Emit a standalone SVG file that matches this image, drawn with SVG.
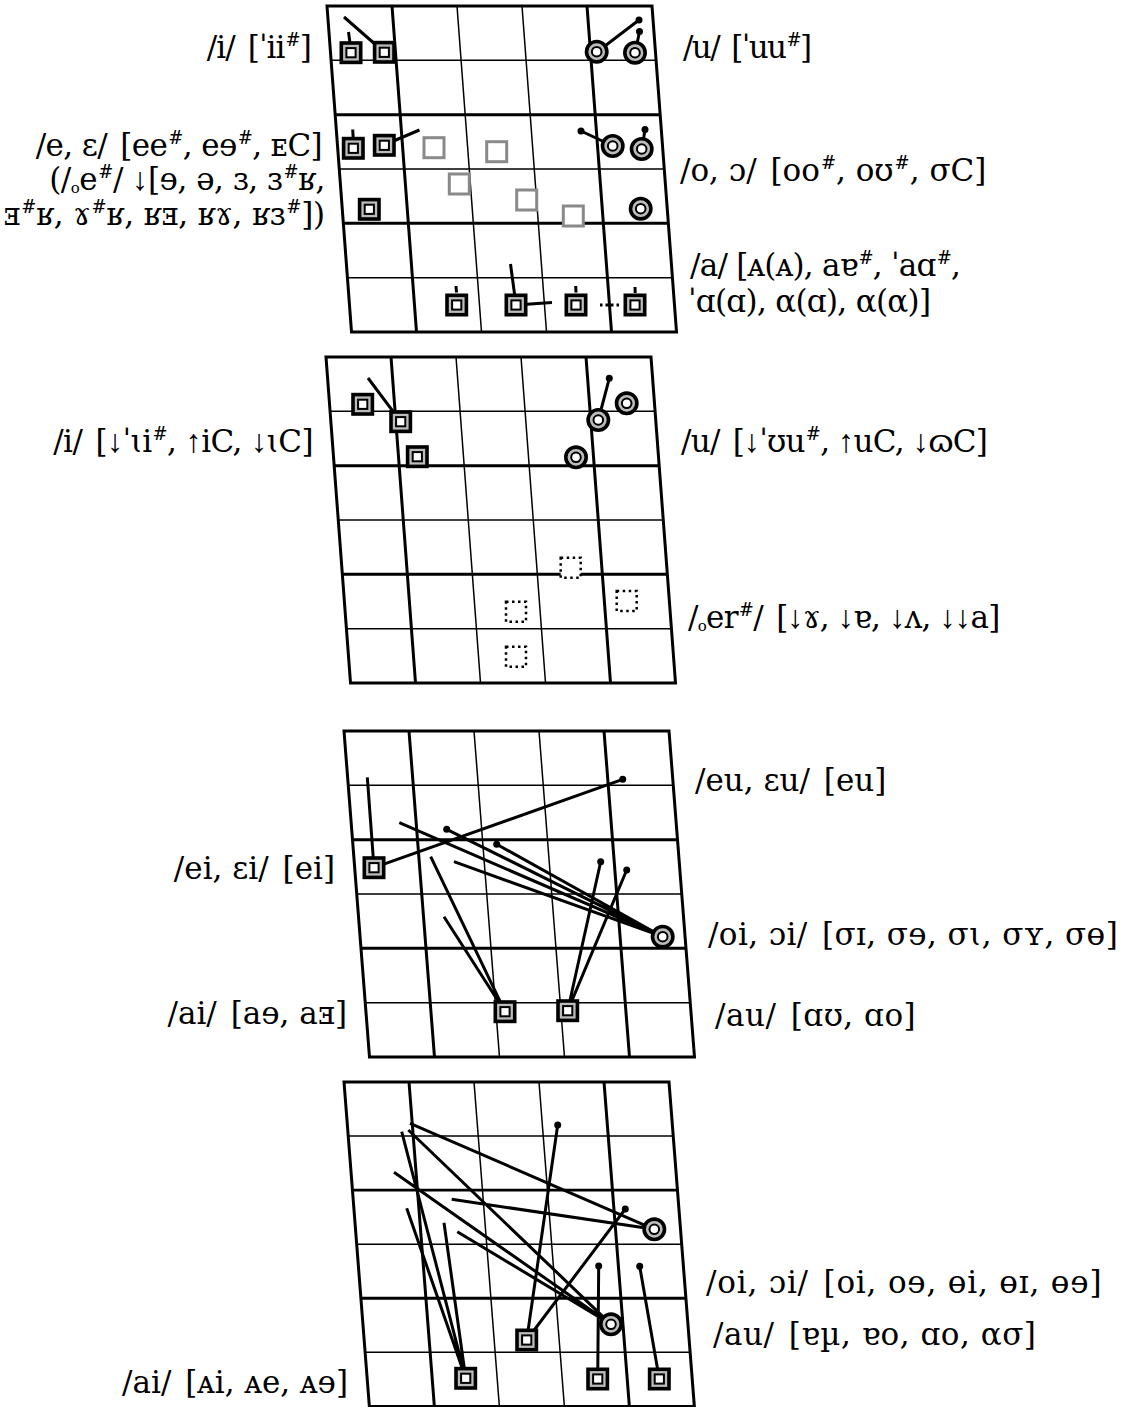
<svg xmlns="http://www.w3.org/2000/svg" width="1130" height="1407" viewBox="0 0 1130 1407">
<style>
.thin{stroke:#000;stroke-width:1.5;fill:none}
.thick{stroke:#000;stroke-width:3;fill:none}
.c{stroke:#000;stroke-width:3;fill:none}
.dl{stroke:#000;stroke-width:3;fill:none;stroke-dasharray:2.5 3}
.dot{fill:#000}
text{font-family:"DejaVu Serif","Liberation Serif","Noto Serif",serif;font-size:31px;fill:#000}
.s{font-size:18px;font-style:italic}
.r{font-size:15px}
.a{font-family:"Liberation Serif","DejaVu Serif",serif;font-size:32px}
</style>
<defs>
<g id="grid">
<path class="thin" d="M0 54.33H325M0 163H325M0 271.67H325M130 0V326M195 0V326"/>
<path class="thick" d="M0 108.67H325M0 217.33H325M65 0V326M260 0V326"/>
<path class="thick" d="M0 0H325V326H0Z"/>
</g>
<g id="sq"><rect x="-9.7" y="-9.7" width="19.4" height="19.4" fill="#bcbcbc" stroke="#000" stroke-width="3.6"/><rect x="-4.6" y="-4.6" width="9.2" height="9.2" fill="#fff" stroke="#000" stroke-width="2"/></g>
<g id="ci"><circle r="10.2" fill="#bcbcbc" stroke="#000" stroke-width="3.6"/><circle r="4.8" fill="#fff" stroke="#000" stroke-width="2"/></g>
<rect id="gsq" x="-10" y="-10" width="20" height="20" fill="#fff" stroke="#8a8a8a" stroke-width="3"/>
<rect id="dsq" x="-10" y="-10" width="20" height="20" fill="#fff" stroke="#000" stroke-width="2.5" stroke-dasharray="2.5 3.5"/>
</defs>
<rect width="1130" height="1407" fill="#fff"/>
<g id="grids">
<use href="#grid" transform="translate(327 6) skewX(4.3)"/>
<use href="#grid" transform="translate(326 357) skewX(4.3)"/>
<use href="#grid" transform="translate(344 731) skewX(4.47)"/>
<use href="#grid" transform="translate(344 1082) skewX(4.47) scale(1 0.995)"/>
</g>
<g id="connectors">
<path class="c" d="M344 17L384 52M348.5 32L350 43M639 20L597 52M639.5 32L635 53M352.7 129.5L353.3 140M384 145L419.5 130M581 131L613 146M645 129.5L642 149M510.5 264L516 305M516 305L552 302.5M456 286L456.5 292.5M575.7 286L576 292.5M635 287L635.2 293"/>
<path class="dl" d="M600 305H620"/>
<path class="c" d="M368 378L400.7 421.7M609.3 378.3L598.3 420"/>
<path class="c" d="M367.3 777.3L374 867.7M374 867.7L622.7 779.3M399.3 822.7L662.7 936.7M446.7 829.3L662.7 936.7M496.7 844.3L662.7 936.7M454 861.7L662.7 936.7M430.7 856.7L505 1011.7M444 916.7L505 1011.7M600.7 861.7L567.7 1010.7M626.7 870L567.7 1010.7"/>
<path class="c" d="M410 1123.3L654.3 1229.3M408.3 1130L611 1324.3M401.7 1131.7L465.7 1378.3M394 1172.3L611 1324.3M451.7 1199.3L654.3 1229.3M406.7 1208.3L465.7 1378.3M444 1222.7L465.7 1378.3M457.3 1231.7L611 1324.3M557.7 1125L526.7 1340M625.3 1209L526.7 1340M598.7 1266L597.7 1379M639.7 1266.3L659.3 1379"/>
<g class="dot">
<circle cx="639" cy="20" r="3.5"/><circle cx="639.5" cy="31.5" r="3.5"/><circle cx="581" cy="131" r="3.5"/><circle cx="645" cy="129.5" r="3.5"/>
<circle cx="609.3" cy="378.3" r="3.5"/>
<circle cx="622.7" cy="779.3" r="3.5"/><circle cx="446.7" cy="829.3" r="3.5"/><circle cx="496.7" cy="844.3" r="3.5"/><circle cx="600.7" cy="861.7" r="3.5"/><circle cx="626.7" cy="870" r="3.5"/>
<circle cx="557.7" cy="1125" r="3.5"/><circle cx="625.3" cy="1209" r="3.5"/><circle cx="598.7" cy="1266" r="3.5"/><circle cx="639.7" cy="1266.3" r="3.5"/>
</g>
</g>
<g id="nodes">
<g id="p1-i1"><use href="#sq" x="351" y="52.7"/></g>
<g id="p1-i2"><use href="#sq" x="384.3" y="52.3"/></g>
<g id="p1-u1"><use href="#ci" x="596.7" y="51.7"/></g>
<g id="p1-u2"><use href="#ci" x="635" y="52.7"/></g>
<g id="p1-e1"><use href="#sq" x="353.3" y="148.3"/></g>
<g id="p1-e2"><use href="#sq" x="384.3" y="145.3"/></g>
<g id="p1-e3"><use href="#sq" x="369.3" y="209.3"/></g>
<g id="p1-g1"><use href="#gsq" x="434" y="147.7"/></g>
<g id="p1-g2"><use href="#gsq" x="496.7" y="151.7"/></g>
<g id="p1-g3"><use href="#gsq" x="459.3" y="184"/></g>
<g id="p1-g4"><use href="#gsq" x="526.7" y="200"/></g>
<g id="p1-g5"><use href="#gsq" x="573.3" y="216"/></g>
<g id="p1-o1"><use href="#ci" x="612.7" y="146"/></g>
<g id="p1-o2"><use href="#ci" x="641.7" y="149"/></g>
<g id="p1-o3"><use href="#ci" x="640.7" y="208.7"/></g>
<g id="p1-a1"><use href="#sq" x="456.7" y="305"/></g>
<g id="p1-a2"><use href="#sq" x="516" y="305"/></g>
<g id="p1-a3"><use href="#sq" x="576" y="305"/></g>
<g id="p1-a4"><use href="#sq" x="635" y="305"/></g>
<g id="p2-i1"><use href="#sq" x="362.7" y="404.3"/></g>
<g id="p2-i2"><use href="#sq" x="400.7" y="421.7"/></g>
<g id="p2-i3"><use href="#sq" x="417.3" y="456.7"/></g>
<g id="p2-u1"><use href="#ci" x="598.3" y="420"/></g>
<g id="p2-u2"><use href="#ci" x="626.7" y="403.3"/></g>
<g id="p2-u3"><use href="#ci" x="576" y="457.3"/></g>
<g id="p2-r1"><use href="#dsq" x="570.7" y="567.7"/></g>
<g id="p2-r2"><use href="#dsq" x="626.7" y="601"/></g>
<g id="p2-r3"><use href="#dsq" x="516" y="611.7"/></g>
<g id="p2-r4"><use href="#dsq" x="516" y="656.7"/></g>
<g id="p3-ei"><use href="#sq" x="374" y="867.7"/></g>
<g id="p3-oi"><use href="#ci" x="662.7" y="936.7"/></g>
<g id="p3-ai"><use href="#sq" x="505" y="1011.7"/></g>
<g id="p3-au"><use href="#sq" x="567.7" y="1010.7"/></g>
<g id="p4-oi1"><use href="#ci" x="654.3" y="1229.3"/></g>
<g id="p4-oi2"><use href="#ci" x="611" y="1324.3"/></g>
<g id="p4-ai"><use href="#sq" x="465.7" y="1378.3"/></g>
<g id="p4-au1"><use href="#sq" x="526.7" y="1340"/></g>
<g id="p4-au2"><use href="#sq" x="597.7" y="1379"/></g>
<g id="p4-au3"><use href="#sq" x="659.3" y="1379"/></g>
</g>
<g id="labels">
<text x="311" y="58" text-anchor="end" letter-spacing="-0.9">/i/ <tspan dx="4">[ˈii</tspan><tspan class="s" dx="1" dy="-12">#</tspan><tspan dy="12">]</tspan></text>
<text x="683" y="58" letter-spacing="-1.6">/u/ <tspan dx="4">[ˈuu</tspan><tspan class="s" dx="1" dy="-12">#</tspan><tspan dy="12">]</tspan></text>
<text x="322" y="156" text-anchor="end" letter-spacing="-0.6">/e, ɛ/ <tspan dx="4">[ee</tspan><tspan class="s" dx="1" dy="-12">#</tspan><tspan dy="12">, eɘ</tspan><tspan class="s" dx="1" dy="-12">#</tspan><tspan dy="12">, ᴇC]</tspan></text>
<text x="325" y="190" text-anchor="end" letter-spacing="-0.45">(/<tspan class="r" dy="3">o</tspan><tspan dy="-3">e</tspan><tspan class="s" dx="1" dy="-12">#</tspan><tspan dy="12">/ </tspan><tspan class="a">↓</tspan>[ɘ, ə, ɜ, ɜ<tspan class="s" dx="1" dy="-12">#</tspan><tspan dy="12">ʁ,</tspan></text>
<text x="325" y="225" text-anchor="end" letter-spacing="-0.2">ⱻ<tspan class="s" dx="1" dy="-12">#</tspan><tspan dy="12">ʁ, ɤ</tspan><tspan class="s" dx="1" dy="-12">#</tspan><tspan dy="12">ʁ, ʁⱻ, ʁɤ, ʁɜ</tspan><tspan class="s" dx="1" dy="-12">#</tspan><tspan dy="12">])</tspan></text>
<text x="680" y="181">/o, ɔ/ <tspan dx="4">[oo</tspan><tspan class="s" dx="1" dy="-12">#</tspan><tspan dy="12">, oʊ</tspan><tspan class="s" dx="1" dy="-12">#</tspan><tspan dy="12">, σC]</tspan></text>
<text x="690" y="276" letter-spacing="-0.75">/a/ [ᴀ(ᴀ), aɐ<tspan class="s" dx="1" dy="-12">#</tspan><tspan dy="12">, ˈaɑ</tspan><tspan class="s" dx="1" dy="-12">#</tspan><tspan dy="12">,</tspan></text>
<text x="688" y="312" letter-spacing="-0.7">ˈɑ(ɑ), α(ɑ), α(α)]</text>
<text x="313" y="452" text-anchor="end" letter-spacing="-0.55">/i/ <tspan dx="4">[</tspan><tspan class="a">↓</tspan>ˈɩi<tspan class="s" dx="1" dy="-12">#</tspan><tspan dy="12">, </tspan><tspan class="a">↑</tspan>iC, <tspan class="a">↓</tspan>ɩC]</text>
<text x="681" y="452" letter-spacing="-0.75">/u/ <tspan dx="4">[</tspan><tspan class="a">↓</tspan>ˈʊu<tspan class="s" dx="1" dy="-12">#</tspan><tspan dy="12">, </tspan><tspan class="a">↑</tspan>uC, <tspan class="a">↓</tspan>ɷC]</text>
<text x="688" y="628" letter-spacing="-0.7">/<tspan class="r" dy="3">o</tspan><tspan dy="-3">er</tspan><tspan class="s" dx="1" dy="-12">#</tspan><tspan dy="12">/ </tspan><tspan dx="4">[</tspan><tspan class="a">↓</tspan>ɤ, <tspan class="a">↓</tspan>ɐ, <tspan class="a">↓</tspan>ʌ, <tspan class="a">↓↓</tspan>a]</text>
<text x="695" y="791">/eu, ɛu/ <tspan dx="4">[eu]</tspan></text>
<text x="335" y="879" text-anchor="end">/ei, ɛi/ <tspan dx="4">[ei]</tspan></text>
<text x="708" y="945" letter-spacing="0.4">/oi, ɔi/ <tspan dx="4">[σɪ, σɘ, σɩ, σʏ, σɵ]</tspan></text>
<text x="347" y="1024" text-anchor="end">/ai/ <tspan dx="4">[aɘ, aⱻ]</tspan></text>
<text x="715" y="1026" letter-spacing="0.5">/au/ <tspan dx="4">[ɑʊ, ɑo]</tspan></text>
<text x="706" y="1293" letter-spacing="0.8">/oi, ɔi/ <tspan dx="4">[oi, oɘ, ɵi, ɵɪ, ɵɘ]</tspan></text>
<text x="713" y="1345" letter-spacing="0.5">/au/ <tspan dx="4">[ɐµ, ɐo, ɑo, ασ]</tspan></text>
<text x="348" y="1393" text-anchor="end">/ai/ <tspan dx="4">[ᴀi, ᴀe, ᴀɘ]</tspan></text>
</g>
</svg>
